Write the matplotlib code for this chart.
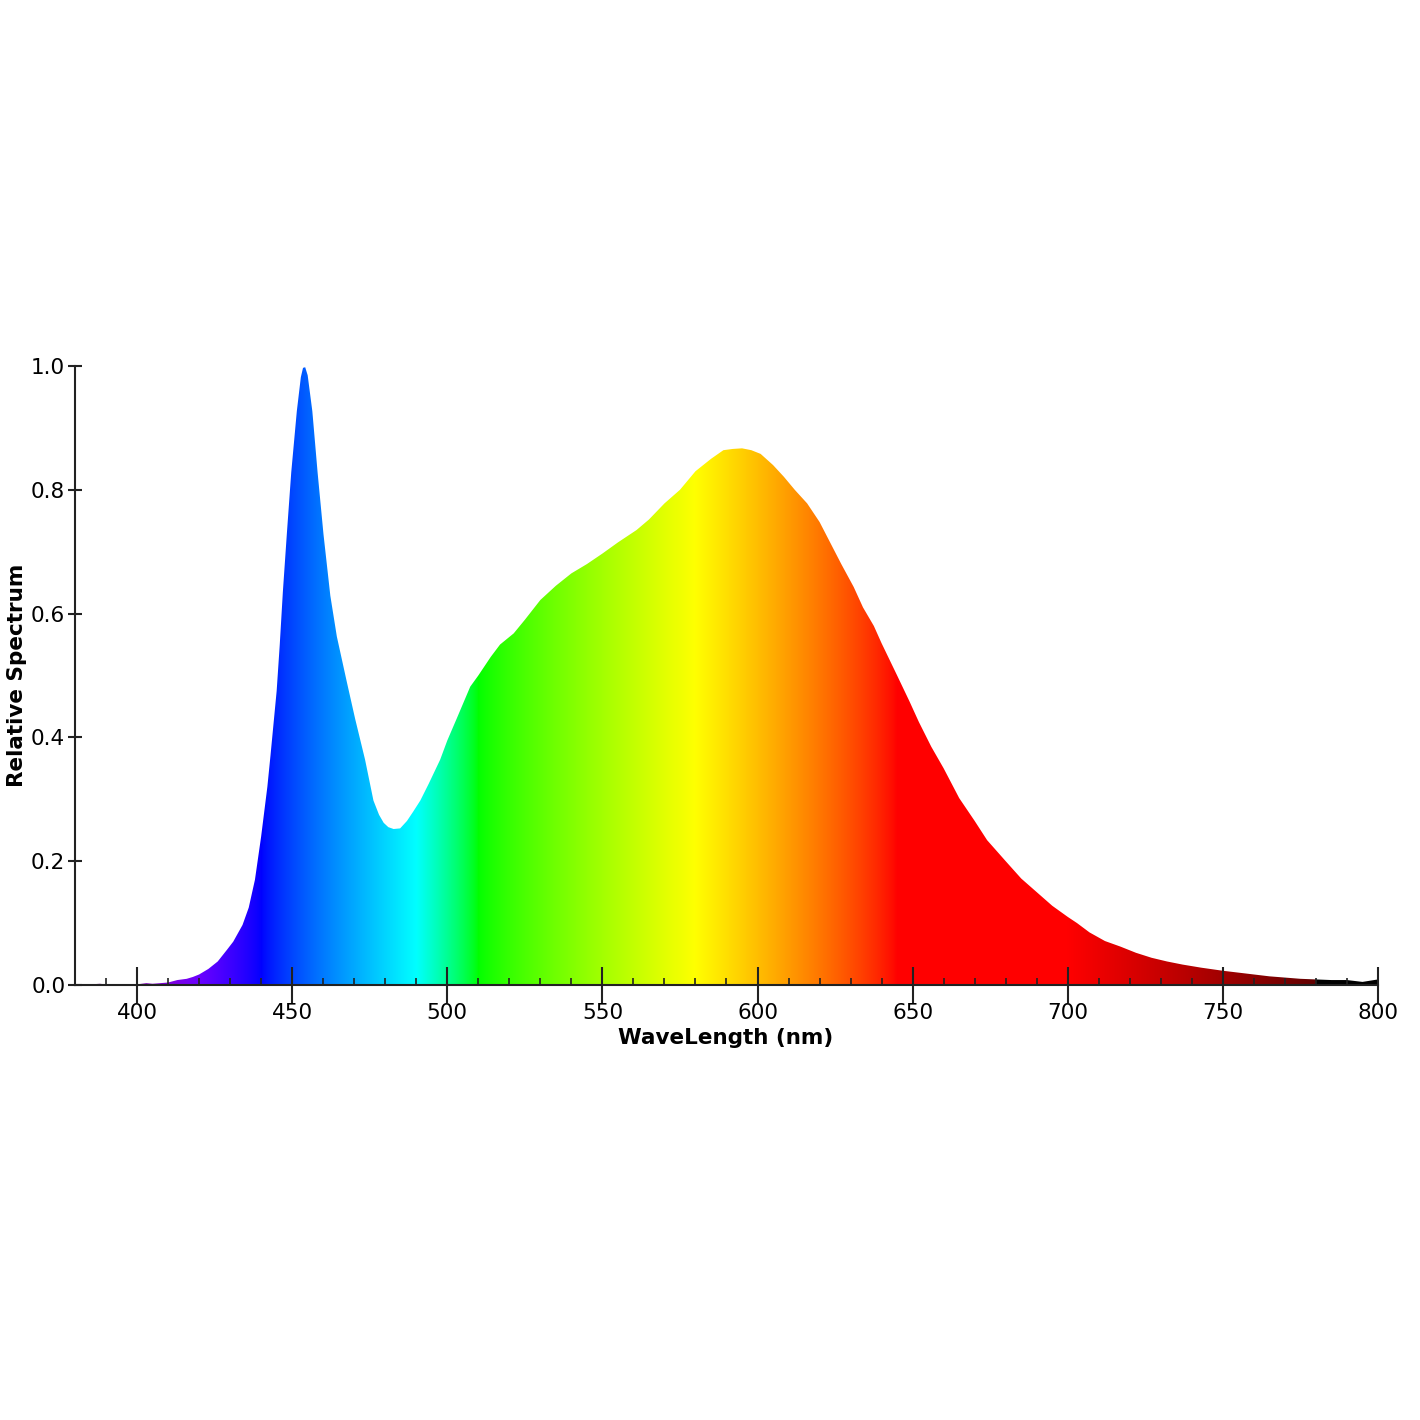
import numpy as np
import matplotlib
matplotlib.use("Agg")
import matplotlib.pyplot as plt

# ---- data ----
wavelength = [380, 385, 388, 390, 395, 400, 403, 405, 410, 413, 416, 418, 420, 423, 426, 429,
              431, 434, 436, 438, 440, 442, 443, 445, 446, 447, 448.3, 449.7, 451.5, 452.8,
              453.5, 454.2, 455, 456.5, 458.2, 460.1, 462.3, 464.4, 467.6, 470.3, 473.5, 476.2,
              478, 479.5, 481, 482.7, 484.8, 487, 489, 491.3, 494, 497.7, 500, 503, 507.4, 510,
              514, 517, 521.4, 525, 530, 535, 540, 545, 550, 555, 561, 565, 570, 575, 580, 585,
              589, 592, 595, 598, 601, 605, 608.5, 612, 616, 620, 623.5, 627, 631, 634,
              637.5, 640, 645, 649, 652, 656, 660, 665, 670, 674, 680, 685, 690, 695, 700,
              703, 707, 712, 717, 722, 727, 732, 737, 743, 750, 755, 760, 765, 770, 775,
              780, 785, 790, 795, 800]
spectrum = [0.0, 0.001, 0.002, 0.001, 0.001, 0.001, 0.003, 0.002, 0.004, 0.008, 0.010, 0.013,
            0.017, 0.026, 0.038, 0.057, 0.070, 0.097, 0.125, 0.17, 0.24, 0.32, 0.37, 0.475,
            0.55, 0.635, 0.73, 0.828, 0.927, 0.982,
            0.997, 0.998, 0.985, 0.927, 0.828, 0.728, 0.629, 0.563, 0.49, 0.43, 0.364, 0.298,
            0.275, 0.262, 0.255, 0.252, 0.253, 0.265, 0.28, 0.298, 0.325,
            0.364, 0.395, 0.43, 0.482, 0.50, 0.53, 0.55, 0.568, 0.59, 0.622, 0.645, 0.665,
            0.68, 0.697, 0.715, 0.735, 0.752, 0.778, 0.80, 0.83, 0.85, 0.864, 0.866, 0.867,
            0.864, 0.858, 0.84, 0.821, 0.80, 0.778, 0.748, 0.714, 0.68, 0.643, 0.61, 0.58,
            0.552, 0.50, 0.458, 0.425, 0.385, 0.35, 0.302, 0.265, 0.234, 0.20, 0.172, 0.15,
            0.128, 0.11, 0.10, 0.085, 0.071, 0.062, 0.052, 0.044, 0.038, 0.033, 0.028, 0.023,
            0.02, 0.017, 0.014, 0.012, 0.010, 0.009, 0.008, 0.008, 0.005, 0.009]

x_ticks = [400, 450, 500, 550, 600, 650, 700, 750, 800]
y_ticks = [0.0, 0.2, 0.4, 0.6, 0.8, 1.0]
x_label = "WaveLength (nm)"
y_label = "Relative Spectrum"


def wavelength_to_rgb(w, gamma=0.8):
    if 380 <= w < 440:
        r, g, b = -(w - 440) / 60.0, 0.0, 1.0
    elif 440 <= w < 490:
        r, g, b = 0.0, (w - 440) / 50.0, 1.0
    elif 490 <= w < 510:
        r, g, b = 0.0, 1.0, -(w - 510) / 20.0
    elif 510 <= w < 580:
        r, g, b = (w - 510) / 70.0, 1.0, 0.0
    elif 580 <= w < 645:
        r, g, b = 1.0, -(w - 645) / 65.0, 0.0
    elif 645 <= w <= 780:
        r, g, b = 1.0, 0.0, 0.0
    else:
        r, g, b = 0.0, 0.0, 0.0
    if 380 <= w < 420:
        f = 0.3 + 0.7 * (w - 380) / 40.0
    elif 420 <= w <= 700:
        f = 1.0
    elif 700 < w <= 780:
        f = 0.3 + 0.7 * (780 - w) / 80.0
    else:
        f = 0.0
    return [(c * f) ** gamma if c > 0 else 0.0 for c in (r, g, b)]


W = H = 1420
fig = plt.figure(figsize=(W / 100, H / 100), dpi=100)
ax = fig.add_axes([75 / W, (H - 985) / H, (1378 - 75) / W, (985 - 366) / H])

wl = np.array(wavelength)
sp = np.array(spectrum)
poly = ax.fill_between(wl, 0, sp, facecolor="none", edgecolor="none")
clip = poly.get_paths()[0]

cols = np.linspace(380, 800, 1400)
grad = np.array([[wavelength_to_rgb(c) for c in cols]])
im = ax.imshow(grad, extent=[380, 800, 0, 1], aspect="auto", interpolation="bilinear", zorder=1)
im.set_clip_path(clip, transform=ax.transData)

ax.set_xlim(380, 800)
ax.set_ylim(0, 1.0)
for s in ("top", "right"):
    ax.spines[s].set_visible(False)
for s in ("left", "bottom"):
    ax.spines[s].set_linewidth(1.5)
    ax.spines[s].set_color("#222222")
    ax.spines[s].set_zorder(3)

ax.set_xticks(x_ticks)
ax.set_xticks(np.arange(390, 800, 10), minor=True)
ax.set_yticks(y_ticks)
ax.set_yticklabels([f"{v:.1f}" for v in y_ticks])
ax.tick_params(axis="x", which="major", direction="inout", length=26, width=1.5,
               labelsize=15.5, pad=0, color="#222222")
ax.tick_params(axis="x", which="minor", direction="in", length=5, width=1.2, color="#222222")
ax.tick_params(axis="y", which="major", direction="inout", length=10, width=1.5,
               labelsize=15.5, pad=2, color="#222222")

fig.text(726 / W, 1 - 1038 / H, x_label, fontsize=15.5, fontweight="bold",
         ha="center", va="center")
fig.text(17 / W, 1 - 675 / H, y_label, fontsize=15.5, fontweight="bold",
         ha="center", va="center", rotation=90)

fig.savefig("out.png", dpi=100, facecolor="white")
